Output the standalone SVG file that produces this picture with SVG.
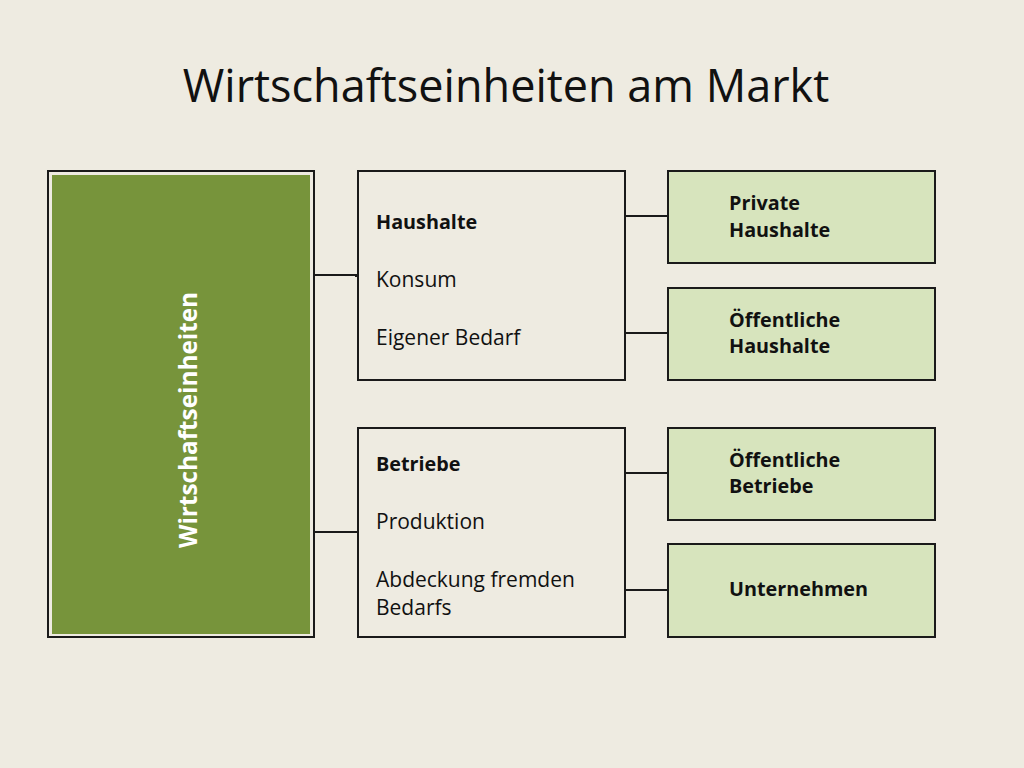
<svg xmlns="http://www.w3.org/2000/svg" width="1024" height="768" viewBox="0 0 1024 768">
<style>
.t{font-family:"Open Sans",Lato,"Liberation Sans",sans-serif;font-size:21px;fill:#111}
.b{font-weight:bold;font-size:19.8px}
.box{stroke:#1a1a1a;stroke-width:2}
.mid{fill:#EEEBE1}
.leaf{fill:#D7E4BD}
.c{stroke:#1a1a1a;stroke-width:2;fill:none}
</style>
<rect width="1024" height="768" fill="#EEEBE1"/>
<text x="506" y="102" text-anchor="middle" font-family="'Open Sans',Lato,'Liberation Sans',sans-serif" font-size="45" fill="#111">Wirtschaftseinheiten am Markt</text>
<g id="connectors">
<path class="c" d="M314 275 H356 V276 H358"/>
<path class="c" d="M314 532 H358"/>
<path class="c" d="M625 216 H668"/>
<path class="c" d="M625 333 H668"/>
<path class="c" d="M625 473 H668"/>
<path class="c" d="M625 590 H668"/>
</g>
<g id="wirtschaftseinheiten">
<rect class="box" x="48" y="171" width="266" height="466" fill="#EEEBE1"/>
<rect x="52" y="175" width="258" height="459" fill="#77943B"/>
<text transform="translate(197,420) rotate(-90)" text-anchor="middle" font-family="'Open Sans',Lato,'Liberation Sans',sans-serif" font-size="24.3" font-weight="bold" fill="#fff">Wirtschaftseinheiten</text>
</g>
<g id="haushalte">
<rect class="box mid" x="358" y="171" width="267" height="209"/>
<text class="t b" x="376" y="229">Haushalte</text>
<text class="t" x="376" y="287">Konsum</text>
<text class="t" x="376" y="345">Eigener Bedarf</text>
</g>
<g id="betriebe">
<rect class="box mid" x="358" y="428" width="267" height="209"/>
<text class="t b" x="376" y="471">Betriebe</text>
<text class="t" x="376" y="529">Produktion</text>
<text class="t" x="376" y="587">Abdeckung fremden</text>
<text class="t" x="376" y="615">Bedarfs</text>
</g>
<g id="private-haushalte">
<rect class="box leaf" x="668" y="171" width="267" height="92"/>
<text class="t b" x="729" y="210">Private</text>
<text class="t b" x="729" y="237">Haushalte</text>
</g>
<g id="oeffentliche-haushalte">
<rect class="box leaf" x="668" y="288" width="267" height="92"/>
<text class="t b" x="729" y="327">Öffentliche</text>
<text class="t b" x="729" y="353">Haushalte</text>
</g>
<g id="oeffentliche-betriebe">
<rect class="box leaf" x="668" y="428" width="267" height="92"/>
<text class="t b" x="729" y="467">Öffentliche</text>
<text class="t b" x="729" y="493">Betriebe</text>
</g>
<g id="unternehmen">
<rect class="box leaf" x="668" y="544" width="267" height="93"/>
<text class="t b" x="729" y="596">Unternehmen</text>
</g>
</svg>
